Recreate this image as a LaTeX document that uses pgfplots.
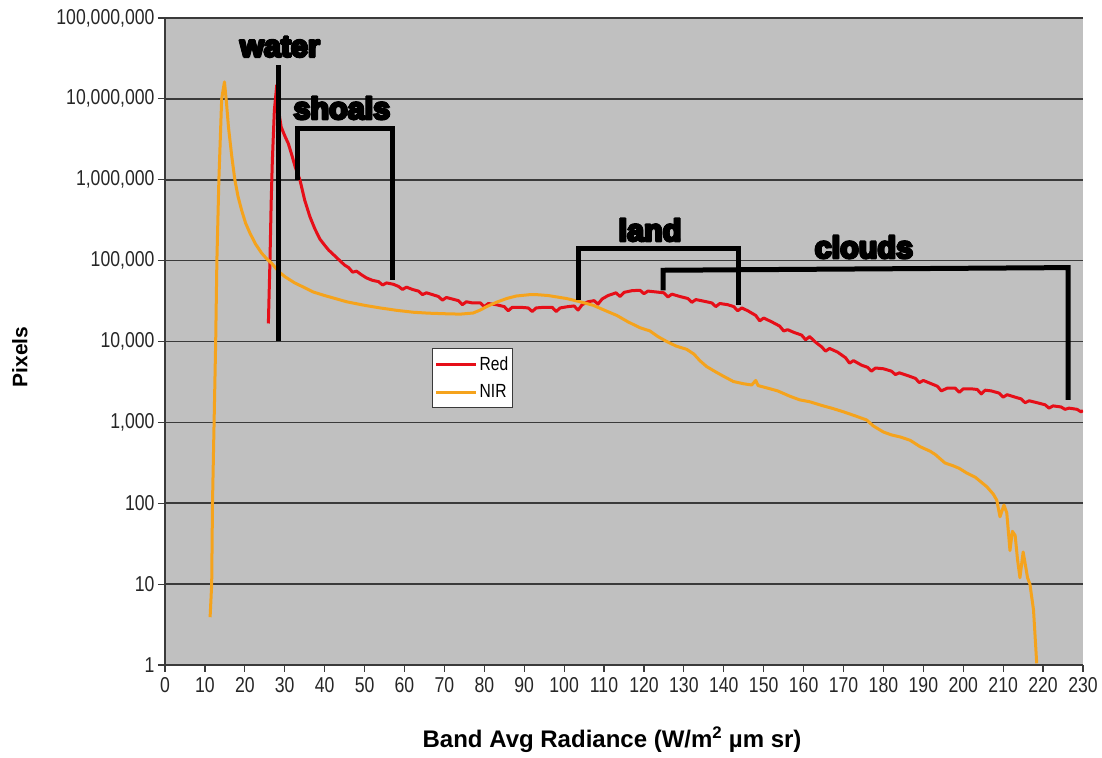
\documentclass[border=0pt]{standalone}
\usepackage{fontspec}
\setmainfont{Liberation Sans}
\newfontfamily\tickfont[FakeStretch=0.82]{Liberation Sans}
\newfontfamily\annotfont[FakeBold=4]{Liberation Sans Bold}
\newcommand\heavy[1]{\leavevmode\rlap{\kern1.6pt#1}\rlap{\kern0.8pt\raisebox{0.8pt}{#1}}\rlap{\kern0.8pt\raisebox{-0.8pt}{#1}}\rlap{\kern0.4pt#1}\rlap{\kern1.2pt#1}#1\kern1.6pt}
\usepackage{pgfplots}
\pgfplotsset{compat=1.18}
\definecolor{plotgray}{HTML}{C0C0C0}
\definecolor{gridc}{HTML}{3A3A3A}
\definecolor{redc}{HTML}{E60E18}
\definecolor{nirc}{HTML}{F5A31C}
\definecolor{labc}{HTML}{262626}
\begin{document}
\begin{tikzpicture}
\useasboundingbox (-165pt,-92pt) rectangle (937pt,665pt);
\begin{axis}[
  at={(0,0)}, anchor=south west,
  scale only axis, width=918pt, height=647pt,
  xmin=0, xmax=230, ymin=1, ymax=1e8, ymode=log,
  axis background/.style={fill=plotgray},
  axis lines=left, axis line style={-, draw=gridc, line width=1.5pt},
  ymajorgrids, grid style={draw=gridc, line width=1.7pt},
  xtick={0,10,...,230},
  xticklabels={0,10,20,30,40,50,60,70,80,90,100,110,120,130,140,150,160,170,180,190,200,210,220,230},
  ytick={1,10,100,1000,10000,100000,1000000,10000000,100000000},
  yticklabels={1,10,100,{1,000},{10,000},{100,000},{1,000,000},{10,000,000},{100,000,000}},
  yminorticks=false, xminorticks=false,
  tick align=outside, major tick length=7pt,
  tick style={draw=gridc, line width=1.2pt},
  ticklabel style={font=\tickfont\fontsize{21.5}{23}\selectfont, text=labc},
  xticklabel style={yshift=-2pt},
  xlabel={Band Avg Radiance (W/m\textsuperscript{2} µm sr)},
  ylabel={Pixels},
  xlabel style={font=\bfseries\fontsize{24}{28}\selectfont, at={(axis description cs:0.487,-0.116)}, anchor=center},
  ylabel style={font=\bfseries\fontsize{21}{24}\selectfont, at={(axis description cs:-0.158,0.476)}, anchor=center, rotate=0},
  legend style={at={(rel axis cs:0.291,0.49)}, anchor=north west, draw=gridc, line width=1.2pt, fill=white,
    font=\tickfont\fontsize{19}{21}\selectfont, inner xsep=2pt, inner ysep=6pt, row sep=9pt},
  legend cell align=left,
  legend image code/.code={\draw[#1, line width=3pt] (0pt,0pt) -- (40pt,0pt);},
]
\addplot[redc, line width=3pt, line join=round] coordinates {
(25.9,16700) (26.3,100000) (26.6,520000) (26.9,1750000) (27.4,7200000) (28.0,14800000)
(28.6,6500000) (29.1,4500000) (30.0,3500000) (30.9,2800000) (31.8,2000000) (32.6,1450000)
(33.8,1000000) (35.0,560000) (36.3,350000) (37.5,250000) (38.8,185000) (40.0,155000)
(41.0,135000) (42.5,115000) (43.8,100000) (45.0,88000) (46.0,82000) (47.0,72000)
(48.0,74000) (49.0,68000) (50.5,61000) (52.0,57000) (53.5,55000) (54.5,50000)
(55.5,53000) (57.2,51000) (58.5,48000) (59.5,44000) (60.5,47000) (62.0,44000)
(63.5,42000) (64.5,38000) (65.5,40000) (67.0,38000) (68.5,36000) (69.5,32500)
(70.5,35000) (72.0,33500) (73.5,32000) (74.5,28500) (75.5,31000) (77.0,30000)
(79.0,30000) (80.0,27000) (81.0,29500) (83.0,28500) (85.0,27000) (86.0,24000)
(87.0,26500) (89.0,26500) (91.0,26000) (92.0,23500) (93.0,26000) (95.0,26500)
(97.0,26500) (98.0,23500) (99.0,26000) (101.0,27000) (102.5,27500) (103.5,24500)
(104.5,28500) (106.0,31000) (107.5,32000) (108.5,29000) (109.5,33500) (111.0,37000)
(113.0,40000) (114.0,36000) (115.0,40500) (117.0,42500) (119.0,43000) (120.0,39000)
(121.0,42000) (123.0,41000) (125.0,40000) (126.0,35500) (127.0,38500) (129.0,36000)
(131.0,34000) (132.0,30500) (133.0,33000) (135.0,31500) (137.0,30000) (138.0,27000)
(139.0,29500) (141.0,28500) (142.5,27000) (143.5,24000) (144.5,26000) (146.0,24000)
(148.0,21000) (149.0,18000) (150.0,19500) (152.0,17500) (154.0,15500) (155.0,13500)
(156.0,14000) (157.5,13000) (159.5,12000) (160.5,10500) (161.5,11500) (163.0,9800)
(164.5,8600) (165.5,7600) (166.5,8200) (168.5,7400) (170.5,6300) (171.5,5400)
(172.5,5800) (174.5,5100) (176.0,4800) (177.0,4300) (178.0,4700) (180.0,4600)
(182.0,4300) (183.0,3900) (184.0,4100) (186.0,3800) (188.0,3500) (189.0,3100)
(190.0,3300) (192.0,3000) (193.5,2800) (194.5,2450) (196.0,2650) (198.0,2650)
(199.0,2350) (200.0,2600) (202.0,2600) (203.5,2550) (204.5,2250) (205.5,2500)
(207.0,2450) (209.0,2300) (210.0,2050) (211.0,2200) (213.0,2050) (214.5,1950)
(215.5,1750) (216.5,1850) (218.5,1750) (220.5,1650) (221.5,1500) (222.5,1600)
(224.5,1550) (225.5,1450) (226.5,1500) (228.5,1450) (229.5,1350) (230,1400)
};
\addlegendentry{Red}
\addplot[nirc, line width=3pt, line join=round] coordinates {
(11.3,3.9) (11.7,10) (11.9,100) (12.3,1000) (12.7,10000) (13.0,100000) (13.5,1000000)
(14.2,10000000) (14.9,16200000) (15.4,9000000) (15.9,4500000) (16.7,2000000) (17.5,1000000)
(18.3,620000) (19.2,420000) (20.2,290000) (21.3,218000) (22.7,160000) (24.2,124000)
(25.5,105000) (26.7,93000) (28.5,73000) (30.1,63000) (32.5,53000) (35.1,46000)
(37.1,41000) (40,37000) (45.5,31000) (50,28000) (53.9,26000) (58,24300) (62.2,23000)
(66,22400) (70.6,22000) (74,21800) (77.2,22500) (79,24500) (80.6,27000) (83,30500)
(85.6,34000) (88,36500) (91.5,38000) (93,38000) (96,37000) (100.6,34000) (104,31000)
(107.3,28000) (110,24500) (113.2,21000) (116,17500) (119,14800) (121.5,13500)
(123.5,11500) (125.7,10000) (128,8800) (130.7,8000) (132.5,7000) (134,5800) (135.7,4900)
(138,4200) (140,3700) (142.4,3200) (145,3000) (147,2900) (148,3300) (148.6,2850)
(151,2650) (153.5,2450) (156.6,2100) (159,1900) (161.5,1800) (164.9,1600) (167,1500)
(170,1350) (173,1200) (175.8,1070) (177.5,900) (180,760) (182,700) (184.2,660)
(186.7,600) (189.2,500) (191.7,440) (193,400) (195.4,315) (197.5,290) (199,270)
(200.9,236) (203,210) (205.9,160) (207.5,130) (208.4,109) (209.2,68) (210.2,95)
(210.9,76) (211.7,26) (212.3,45) (213,40) (213.6,20) (214.2,12) (215,25) (215.5,18)
(216.1,12) (216.7,10) (217.6,4.8) (218.4,1.05)
};
\addlegendentry{NIR}
% annotations
\draw[black, line width=5pt] (axis cs:28.56,1e4) -- (axis cs:28.56,2.6e7);
\draw[black, line width=5pt] (axis cs:33.1,1e6) -- (axis cs:33.1,4.36e6) -- (axis cs:56.9,4.36e6) -- (axis cs:56.9,5.7e4);
\draw[black, line width=5pt] (axis cs:103.7,3.25e4) -- (axis cs:103.7,1.43e5) -- (axis cs:143.8,1.43e5) -- (axis cs:143.8,2.8e4);
\draw[black, line width=5pt] (axis cs:124.8,4.3e4) -- (axis cs:124.8,7.6e4) -- (axis cs:226.3,8.2e4) -- (axis cs:226.3,1.9e3);
\node[font=\annotfont\fontsize{30.5}{32}\selectfont, inner sep=0pt] at (axis cs:28.8,4.4e7) {\heavy{water}};
\node[font=\annotfont\fontsize{30.5}{32}\selectfont, inner sep=0pt] at (axis cs:44.3,7.7e6) {\heavy{shoals}};
\node[font=\annotfont\fontsize{30.5}{32}\selectfont, inner sep=0pt] at (axis cs:121.5,2.39e5) {\heavy{land}};
\node[font=\annotfont\fontsize{30.5}{32}\selectfont, inner sep=0pt] at (axis cs:175.1,1.47e5) {\heavy{clouds}};
\end{axis}
\end{tikzpicture}
\end{document}
